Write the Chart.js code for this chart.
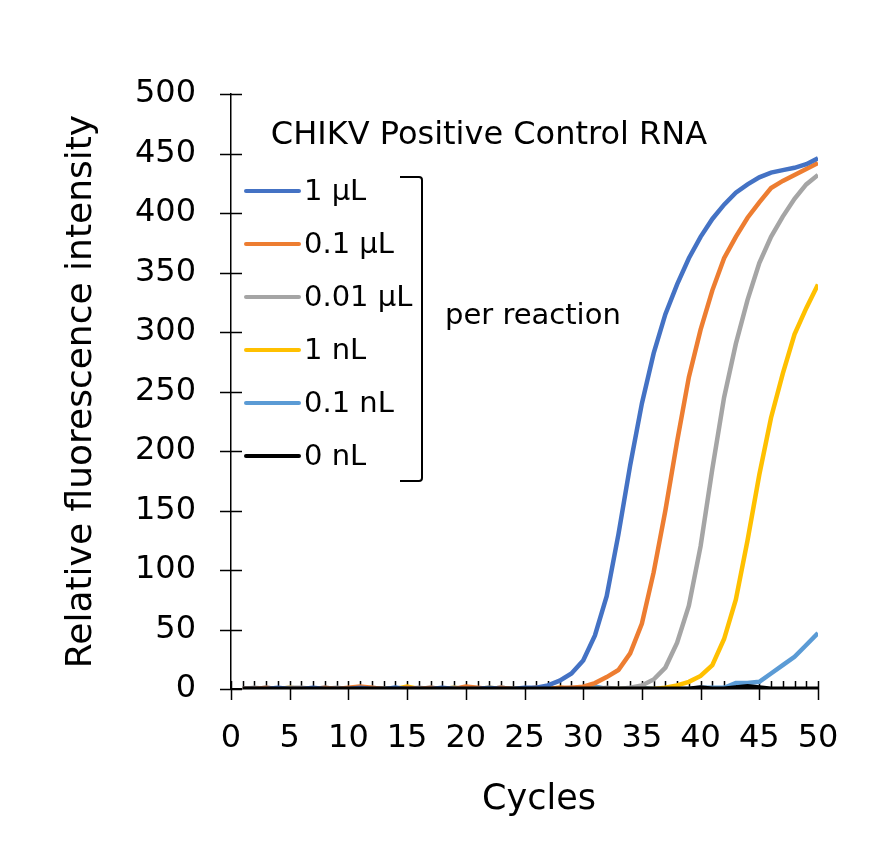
<!DOCTYPE html>
<html>
<head>
<meta charset="utf-8">
<script src="https://cdn.jsdelivr.net/npm/chart.js@4.4.1/dist/chart.umd.min.js"></script>
<style>
  html, body { margin: 0; padding: 0; background: #fff; }
</style>
</head>
<body>
<canvas id="qpcrChart" width="894" height="862"></canvas>
<script>
const cycles = [
  1, 2, 3, 4, 5, 6, 7, 8, 9, 10,
  11, 12, 13, 14, 15, 16, 17, 18, 19, 20,
  21, 22, 23, 24, 25, 26, 27, 28, 29, 30,
  31, 32, 33, 34, 35, 36, 37, 38, 39, 40,
  41, 42, 43, 44, 45, 46, 47, 48, 49, 50
];
const seriesLabels = ['1 µL', '0.1 µL', '0.01 µL', '1 nL', '0.1 nL', '0 nL'];

const vol1uL = [0,0,0,1,0,0,1,0,0,0, 1,0,0,1,0,0,0,1,0,0, 0,1,0,0,1, 1,3,7,13,24, 45,78,130,188,240, 282,315,340,362,380, 395,407,417,424,430, 434,436,438,441,446];
const vol01uL = [0,0,1,0,0,0,0,1,0,1, 2,1,0,0,1,0,1,0,0,2, 1,0,1,0,0, 1,0,1,1,2, 5,10,16,30,55, 98,150,208,262,302, 335,362,380,396,409, 421,427,432,437,442];
const vol001uL = [0,1,0,0,1,1,0,0,1,0, 0,1,0,0,0,1,0,0,1,0, 0,0,1,0,0, 1,0,0,1,0, 0,1,0,1,3, 8,18,39,70,120, 185,245,290,327,358, 380,397,412,424,432];
const vol1nL = [0,0,0,0,1,0,0,0,0,0, 0,0,0,0,2,0,0,0,1,0, 0,1,0,0,0, 0,0,1,0,0, 0,0,0,0,0, 0,1,3,6,11, 20,42,75,125,180, 228,265,298,320,340];
const vol01nL = [0,0,1,0,0,0,0,1,0,0, 0,0,0,1,0,0,1,0,0,0, 0,0,1,0,0, 0,0,0,0,1, 2,0,0,0,1, 0,0,0,0,1, 1,1,5,5,6, 13,20,27,37,47];
const vol0nL = [0,0,0,0,0,0,0,0,0,0, 0,0,0,0,0,0,0,0,0,0, 0,0,0,0,0, 0,0,0,0,0, 0,0,0,0,0, 0,0,0,0,1, 0,0,1,2,1, 0,0,0,0,0];

const seriesValues = [vol1uL, vol01uL, vol001uL, vol1nL, vol01nL, vol0nL];
const seriesColors = ['#4472C4', '#ED7D31', '#A5A5A5', '#FFC000', '#5B9BD5', '#000000'];

const FONT = "'DejaVu Sans', Verdana, sans-serif";

// crossing tick marks like the spreadsheet original
const tickMarks = {
  id: 'tickMarks',
  beforeDatasetsDraw(chart) {
    const { ctx, scales: { x, y } } = chart;
    ctx.save();
    ctx.strokeStyle = '#000';
    ctx.lineWidth = 1.5;
    ctx.beginPath();
    for (let v = 0; v <= 50; v++) {
      const px = Math.round(x.getPixelForValue(v)) + 0.5;
      ctx.moveTo(px, y.bottom - 8);
      ctx.lineTo(px, v % 5 === 0 ? y.bottom + 11 : y.bottom);
    }
    y.ticks.forEach(t => {
      const py = Math.round(y.getPixelForValue(t.value)) + 0.5;
      ctx.moveTo(x.left - 11, py);
      ctx.lineTo(x.left + 11, py);
    });
    ctx.stroke();
    ctx.restore();
  }
};

// legend box with bracket, drawn inside the plot, plus the x axis title
const insideLegend = {
  id: 'insideLegend',
  afterDatasetsDraw(chart) {
    const { ctx, chartArea: a } = chart;
    ctx.save();
    ctx.fillStyle = '#000';
    ctx.textBaseline = 'middle';
    ctx.font = '32px ' + FONT;
    ctx.textAlign = 'center';
    ctx.fillText('CHIKV Positive Control RNA', a.left + 258, a.top + 42);

    ctx.font = '35px ' + FONT;
    ctx.fillText('Cycles', a.left + 308, a.bottom + 111);

    ctx.font = '29px ' + FONT;
    ctx.textAlign = 'left';
    chart.data.datasets.forEach((ds, i) => {
      const yy = a.top + 97 + i * 53;
      ctx.strokeStyle = ds.borderColor;
      ctx.lineWidth = 4;
      ctx.lineCap = 'round';
      ctx.beginPath();
      ctx.moveTo(a.left + 15, yy);
      ctx.lineTo(a.left + 68, yy);
      ctx.stroke();
      ctx.fillText(ds.label, a.left + 73, yy + 1);
    });

    // bracket
    ctx.strokeStyle = '#000';
    ctx.lineWidth = 2;
    ctx.lineCap = 'butt';
    ctx.beginPath();
    ctx.moveTo(a.left + 169, a.top + 83);
    ctx.lineTo(a.left + 188, a.top + 83);
    ctx.quadraticCurveTo(a.left + 191, a.top + 83, a.left + 191, a.top + 86);
    ctx.lineTo(a.left + 191, a.top + 384);
    ctx.quadraticCurveTo(a.left + 191, a.top + 387, a.left + 188, a.top + 387);
    ctx.lineTo(a.left + 169, a.top + 387);
    ctx.stroke();

    ctx.fillText('per reaction', a.left + 214, a.top + 222);
    ctx.restore();
  }
};

const datasets = seriesLabels.map((label, i) => ({
  label: label,
  data: cycles.map((c, j) => ({ x: c, y: seriesValues[i][j] })),
  borderColor: seriesColors[i],
  backgroundColor: seriesColors[i],
  borderWidth: i === 5 ? 5 : 4.5,
  pointRadius: 0,
  tension: 0,
  fill: false,
  order: i === 5 ? 0 : 1
}));

const ctx = document.getElementById('qpcrChart').getContext('2d');
const myChart = new Chart(ctx, {
  type: 'line',
  data: { datasets: datasets },
  options: {
    responsive: false,
    animation: false,
    layout: { padding: { top: 94, right: 76, left: 0, bottom: 0 } },
    scales: {
      x: {
        type: 'linear',
        min: 0,
        max: 50,
        afterFit: s => { s.height = 173; },
        grid: { display: false, drawTicks: false },
        border: { display: true, color: '#000', width: 1.5 },
        ticks: { stepSize: 5, color: '#000', padding: 30, font: { family: FONT, size: 32 } },
        title: { display: false }
      },
      y: {
        min: 0,
        max: 500,
        afterFit: s => { s.width = 231; },
        grid: { display: false, drawTicks: false },
        border: { display: true, color: '#000', width: 1.5 },
        ticks: { stepSize: 50, color: '#000', padding: 35, font: { family: FONT, size: 32 } },
        title: { display: true, text: 'Relative fluorescence intensity', color: '#000', font: { family: FONT, size: 36 }, padding: { top: 60 } }
      }
    },
    plugins: {
      legend: { display: false },
      tooltip: { enabled: false }
    }
  },
  plugins: [tickMarks, insideLegend]
});
</script>
</body>
</html>
